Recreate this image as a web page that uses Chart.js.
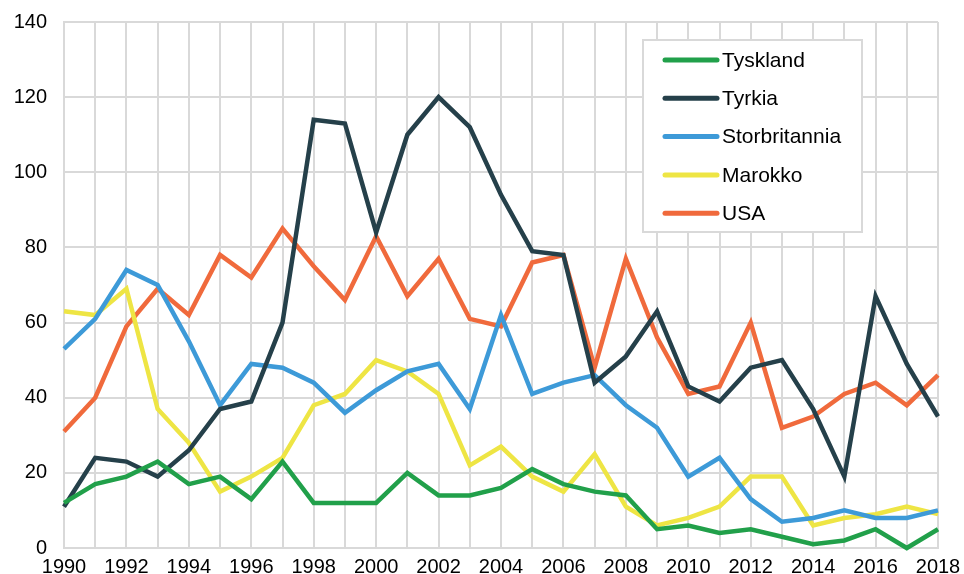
<!DOCTYPE html>
<html lang="no">
<head>
    <meta charset="UTF-8">
    <title>Linjediagram</title>
    <style>
        html, body { margin: 0; padding: 0; background: #fff; }
        .wrap { width: 964px; height: 574px; }
    </style>
</head>
<body>
    <div class="wrap"><canvas id="chart" width="964" height="574"></canvas></div>

    <script src="https://cdn.jsdelivr.net/npm/chart.js"></script>
    <script>
        const years = [1990, 1991, 1992, 1993, 1994, 1995, 1996, 1997, 1998, 1999,
                       2000, 2001, 2002, 2003, 2004, 2005, 2006, 2007, 2008, 2009,
                       2010, 2011, 2012, 2013, 2014, 2015, 2016, 2017, 2018];

        const tyskland = [12, 17, 19, 23, 17, 19, 13, 23, 12, 12, 12, 20, 14, 14, 16,
                          21, 17, 15, 14, 5, 6, 4, 5, 3, 1, 2, 5, 0, 5];
        const tyrkia = [11, 24, 23, 19, 26, 37, 39, 60, 114, 113, 84, 110, 120, 112, 94,
                        79, 78, 44, 51, 63, 43, 39, 48, 50, 37, 19, 67, 49, 35];
        const storbritannia = [53, 61, 74, 70, 55, 38, 49, 48, 44, 36, 42, 47, 49, 37, 62,
                               41, 44, 46, 38, 32, 19, 24, 13, 7, 8, 10, 8, 8, 10];
        const marokko = [63, 62, 69, 37, 28, 15, 19, 24, 38, 41, 50, 47, 41, 22, 27,
                         19, 15, 25, 11, 6, 8, 11, 19, 19, 6, 8, 9, 11, 9];
        const usa = [31, 40, 59, 69, 62, 78, 72, 85, 75, 66, 83, 67, 77, 61, 59,
                     76, 78, 48, 77, 56, 41, 43, 60, 32, 35, 41, 44, 38, 46];

        const yTicks = [0, 20, 40, 60, 80, 100, 120, 140];

        const font = { family: "'Liberation Sans', Arial, sans-serif", size: 20 };
        const gridColor = '#d9d9d9';

        function series(label, data, color) {
            return {
                label: label,
                data: data,
                borderColor: color,
                backgroundColor: color,
                borderWidth: 4.5,
                pointRadius: 0,
                pointHoverRadius: 0,
                tension: 0,
                fill: false,
                clip: false,
                borderJoinStyle: 'miter'
            };
        }

        // legend drawn inside the plot, top right, like the original
        const boxLegend = {
            id: 'boxLegend',
            afterDraw(chart) {
                const ctx = chart.ctx;
                const x = 643, y = 40, w = 219, h = 192;
                ctx.save();
                ctx.fillStyle = '#fff';
                ctx.fillRect(x, y, w, h);
                ctx.strokeStyle = gridColor;
                ctx.lineWidth = 2;
                ctx.strokeRect(x, y, w, h);
                ctx.font = '21px ' + font.family;
                ctx.textBaseline = 'middle';
                ctx.textAlign = 'left';
                chart.data.datasets.forEach((ds, i) => {
                    const cy = 60 + i * 38.3;
                    ctx.strokeStyle = ds.borderColor;
                    ctx.lineWidth = 5;
                    ctx.lineCap = 'round';
                    ctx.beginPath();
                    ctx.moveTo(665, cy);
                    ctx.lineTo(717, cy);
                    ctx.stroke();
                    ctx.fillStyle = '#000';
                    ctx.fillText(ds.label, 722, cy + 1);
                });
                ctx.restore();
            }
        };

        // tick padding also pads the chart edges, so the gap to the labels
        // comes from invisible tick marks instead
        new Chart(document.getElementById('chart'), {
            type: 'line',
            data: {
                labels: years,
                datasets: [
                    series('Tyskland', tyskland, '#21a04a'),
                    series('Tyrkia', tyrkia, '#25404a'),
                    series('Storbritannia', storbritannia, '#3d9ad8'),
                    series('Marokko', marokko, '#eee544'),
                    series('USA', usa, '#f06a3c')
                ]
            },
            options: {
                responsive: false,
                animation: false,
                layout: { padding: { top: 22, right: 26, left: 0, bottom: 0 } },
                plugins: {
                    legend: { display: false },
                    tooltip: { enabled: false }
                },
                scales: {
                    x: {
                        offset: false,
                        afterFit(scale) { scale.height = 26; },
                        grid: {
                            color: gridColor, lineWidth: 2,
                            drawTicks: true, tickLength: 7, tickColor: 'rgba(0,0,0,0)'
                        },
                        border: { color: gridColor, width: 2 },
                        ticks: {
                            color: '#000',
                            font: font,
                            padding: 0,
                            autoSkip: false,
                            maxRotation: 0,
                            callback: (v, i) => i % 2 === 0 ? years[i] : ''
                        }
                    },
                    y: {
                        min: 0,
                        max: 140,
                        afterFit(scale) { scale.width = 64; },
                        afterBuildTicks(scale) { scale.ticks = yTicks.map(v => ({ value: v })); },
                        grid: {
                            color: gridColor, lineWidth: 2,
                            drawTicks: true, tickLength: 17, tickColor: 'rgba(0,0,0,0)'
                        },
                        border: { color: gridColor, width: 2 },
                        ticks: { color: '#000', font: font, padding: 0 }
                    }
                }
            },
            plugins: [boxLegend]
        });
    </script>
</body>
</html>
